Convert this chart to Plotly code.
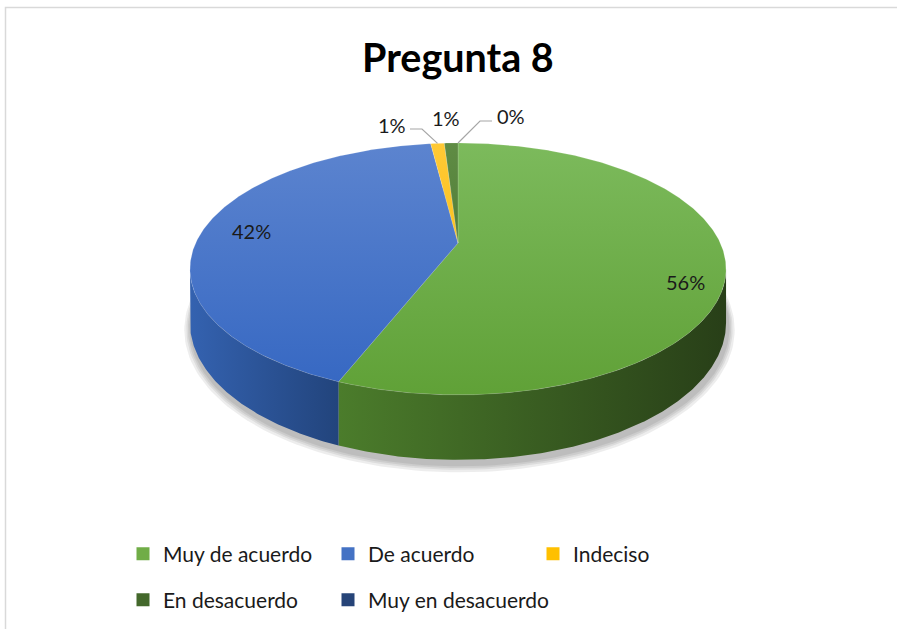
import numpy as np
import plotly.graph_objects as go

# ---------------- data ----------------
categories = ["Muy de acuerdo", "De acuerdo", "Indeciso", "En desacuerdo", "Muy en desacuerdo"]
values = [56, 42, 1, 1, 0]
title_text = "Pregunta 8"

# ---------------- styles ----------------
top_colors = [("#7cba5c", "#60a137"), ("#5c84cf", "#3567c2"), ("#ffc935", "#f5b800"),
              ("#5f8c44", "#3f6a28"), ("#2f5597", "#203f77")]
side_colors = [("#4b7c2b", "#283f18"), ("#3462b0", "#22447c"), ("#c09000", "#a07800"),
               ("#3b5f22", "#2c4419"), ("#1f3864", "#172a4a")]
legend_colors = ["#70ad47", "#4472c4", "#ffc000", "#43682b", "#264478"]
FONT = "Lato"
W, H = 897, 629

# projection parameters of the 3D disk (pixels)
CX, CY, A, B, K, D = 458.0, 243.0, 262.3, 120.6, 0.206, 51.6


def proj(theta_deg, r=1.0, drop=0.0):
    t = np.radians(theta_deg)
    u = r * np.sin(t)
    v = r * np.cos(t)
    w = 1 + K * v
    return CX + A * u / w, CY - B * v / w + drop / w


total = float(sum(values))
fracs = [v / total for v in values]
starts = np.concatenate([[0.0], np.cumsum(fracs)[:-1]]) * 360.0
ends = np.cumsum(fracs) * 360.0

fig = go.Figure()

# soft shadow under the disk
th_all = np.linspace(0, 360, 241)
for grow in [7, 5, 3.5, 2]:
    bx, by = proj(th_all, drop=D)
    sx = CX + (bx - CX) * (1 + grow / A) + 1.5
    sy = CY + (by - CY) * (1 + grow / 180.0) + 4
    fig.add_trace(go.Scatter(x=sx, y=sy, fill="toself", mode="lines", line=dict(width=0),
                             fillcolor="rgba(0,0,0,0.07)", hoverinfo="skip", showlegend=False))

# side walls (front-visible part)
vis_lo = np.degrees(np.arccos(-K))          # right silhouette angle
vis_hi = 360 - vis_lo                        # left silhouette angle
for i, (a0, a1) in enumerate(zip(starts, ends)):
    lo, hi = max(a0, vis_lo), min(a1, vis_hi)
    if hi <= lo:
        continue
    th = np.linspace(lo, hi, max(int((hi - lo) * 2), 4))
    tx, ty = proj(th)
    bx, by = proj(th[::-1], drop=D)
    xs = np.concatenate([tx, bx, tx[:1]])
    ys = np.concatenate([ty, by, ty[:1]])
    fig.add_trace(go.Scatter(
        x=xs, y=ys, fill="toself", mode="lines", line=dict(width=0),
        fillgradient=dict(type="horizontal", start=float(xs.min()), stop=float(xs.max()),
                          colorscale=[[0, side_colors[i][0]], [1, side_colors[i][1]]]),
        hoverinfo="skip", showlegend=False))

# top surface slices
for i, (a0, a1) in enumerate(zip(starts, ends)):
    if a1 - a0 <= 0:
        continue
    th = np.linspace(a0, a1, max(int((a1 - a0) * 2), 4))
    tx, ty = proj(th)
    xs = np.concatenate([[CX], tx, [CX]])
    ys = np.concatenate([[CY], ty, [CY]])
    fig.add_trace(go.Scatter(
        x=xs, y=ys, fill="toself", mode="lines", line=dict(width=0.6, color="rgba(255,255,255,0.25)"),
        fillgradient=dict(type="vertical", start=143, stop=395,
                          colorscale=[[0, top_colors[i][0]], [1, top_colors[i][1]]]),
        hoverinfo="skip", showlegend=False))

# data labels
label_pos = [(685.5, 282), (251.5, 231), (391.5, 124.5), (445.5, 117.5), (511, 116)]
for i, v in enumerate(values):
    fig.add_annotation(x=label_pos[i][0], y=label_pos[i][1], xref="x", yref="y",
                       text=f"{round(v / total * 100)}%", showarrow=False,
                       font=dict(family=FONT, size=20, color="#1a1a1a"))

# leader lines (label elbow -> slice rim at mid angle)
leaders = {2: [(410, 129), (422, 129)], 4: [(492, 121), (480, 121)]}
for i, pts in leaders.items():
    mid = (starts[i] + ends[i]) / 2
    ax, ay = proj(mid)
    fig.add_trace(go.Scatter(x=[p[0] for p in pts] + [ax], y=[p[1] for p in pts] + [ay],
                             mode="lines", line=dict(color="#a6a6a6", width=1.2),
                             hoverinfo="skip", showlegend=False))

# legend entries (row 1 in legend, row 2 in legend2)
for i, c in enumerate(categories):
    fig.add_trace(go.Scatter(x=[None], y=[None], mode="markers", name=c,
                             marker=dict(symbol="square", size=13, color=legend_colors[i]),
                             legend="legend" if i < 3 else "legend2"))
# invisible spacer so the second legend row is not clipped
fig.add_trace(go.Scatter(x=[None], y=[None], mode="markers", name=" ",
                         marker=dict(symbol="square", size=13, color="rgba(0,0,0,0)"),
                         legend="legend2", hoverinfo="skip"))

# title
fig.add_annotation(x=458, y=56, xref="x", yref="y", text=f"<b>{title_text}</b>", showarrow=False,
                   font=dict(family=FONT, size=39.5, color="#000000"))

# chart border
fig.add_shape(type="rect", xref="x", yref="y", x0=5.5, y0=7.5, x1=905, y1=640,
              line=dict(color="#d9d9d9", width=1.5))

leg_common = dict(orientation="h", xanchor="left", yanchor="middle", bgcolor="rgba(0,0,0,0)",
                  font=dict(family=FONT, size=21, color="#1a1a1a"), entrywidth=160,
                  itemclick=False, itemdoubleclick=False, tracegroupgap=0)
fig.update_layout(
    width=W, height=H, margin=dict(l=0, r=0, t=0, b=0),
    paper_bgcolor="white", plot_bgcolor="white", hovermode=False,
    xaxis=dict(range=[0, W], visible=False, fixedrange=True),
    yaxis=dict(range=[H, 0], visible=False, fixedrange=True),
    legend=dict(x=123 / W, y=(H - 554) / H, **leg_common),
    legend2=dict(x=123 / W, y=(H - 600) / H, **leg_common),
)

fig.write_html("out.html", config={"displayModeBar": False},
               post_script="document.body.style.margin='0';")
